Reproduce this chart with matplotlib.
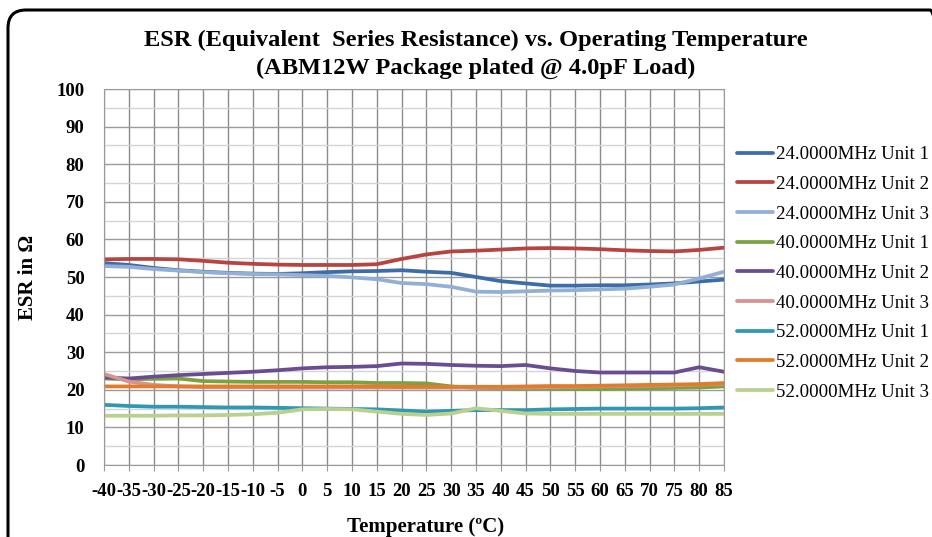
import matplotlib.pyplot as plt
from matplotlib.patches import FancyBboxPatch

# Temperature categories and ESR readings (ohm)
temps = list(range(-40, 90, 5))

esr_24_u1 = [53.7, 53.2, 52.4, 51.8, 51.4, 51.1, 50.9, 50.8, 51.0, 51.3, 51.5, 51.6, 51.8,
             51.4, 51.1, 50.0, 48.9, 48.3, 47.7, 47.7, 47.8, 47.8, 48.0, 48.3, 48.8, 49.3]
esr_24_u2 = [54.7, 54.8, 54.8, 54.7, 54.3, 53.8, 53.5, 53.3, 53.2, 53.2, 53.2, 53.4, 54.8,
             56.0, 56.8, 57.0, 57.3, 57.6, 57.7, 57.6, 57.4, 57.1, 56.9, 56.8, 57.2, 57.8]
esr_24_u3 = [52.9, 52.7, 52.1, 51.7, 51.3, 51.0, 50.8, 50.7, 50.5, 50.3, 49.9, 49.4, 48.4,
             48.1, 47.4, 46.1, 46.0, 46.2, 46.4, 46.5, 46.7, 46.9, 47.4, 48.0, 49.6, 51.4]
esr_40_u1 = [23.0, 22.8, 22.9, 23.0, 22.3, 22.2, 22.1, 22.1, 22.1, 22.0, 22.0, 21.8, 21.8,
             21.7, 20.9, 20.5, 20.4, 20.3, 20.3, 20.2, 20.2, 20.3, 20.4, 20.5, 20.6, 20.9]
esr_40_u2 = [23.3, 23.0, 23.5, 23.9, 24.2, 24.5, 24.8, 25.2, 25.7, 26.0, 26.1, 26.3, 27.0,
             26.9, 26.6, 26.4, 26.3, 26.6, 25.7, 25.0, 24.6, 24.6, 24.6, 24.6, 26.0, 24.8]
esr_40_u3 = [24.2, 22.2, 21.3, 20.9, 20.7, 20.7, 20.7, 20.6, 20.6, 20.6, 20.6, 20.6, 20.6,
             20.6, 20.6, 20.6, 20.6, 20.6, 20.7, 20.8, 20.9, 21.0, 21.1, 21.2, 21.4, 21.6]
esr_52_u1 = [16.0, 15.7, 15.5, 15.5, 15.4, 15.3, 15.3, 15.2, 15.1, 15.0, 14.9, 14.8, 14.5,
             14.2, 14.4, 14.6, 14.6, 14.6, 14.8, 14.9, 15.0, 15.0, 15.0, 15.0, 15.1, 15.3]
esr_52_u2 = [20.9, 20.9, 20.9, 20.9, 20.9, 20.9, 20.9, 20.9, 20.9, 20.9, 20.9, 20.9, 20.8,
             20.8, 20.8, 20.8, 20.8, 20.9, 21.0, 21.0, 21.1, 21.2, 21.3, 21.4, 21.5, 21.8]
esr_52_u3 = [13.1, 13.1, 13.1, 13.2, 13.2, 13.3, 13.5, 13.9, 14.8, 14.9, 14.8, 14.2, 13.6,
             13.3, 13.7, 15.1, 14.4, 13.7, 13.6, 13.6, 13.6, 13.6, 13.6, 13.6, 13.6, 13.6]

series = [
    ('24.0000MHz Unit 1', esr_24_u1, '#3C6DA8'),
    ('24.0000MHz Unit 2', esr_24_u2, '#B84442'),
    ('24.0000MHz Unit 3', esr_24_u3, '#93AFD6'),
    ('40.0000MHz Unit 1', esr_40_u1, '#7BA23F'),
    ('40.0000MHz Unit 2', esr_40_u2, '#6A4C92'),
    ('40.0000MHz Unit 3', esr_40_u3, '#D8928F'),
    ('52.0000MHz Unit 1', esr_52_u1, '#2E98B5'),
    ('52.0000MHz Unit 2', esr_52_u2, '#E37B2C'),
    ('52.0000MHz Unit 3', esr_52_u3, '#B9D08F'),
]

serif = 'Liberation Serif'

fig = plt.figure(figsize=(9.32, 5.37), dpi=100)
ax = fig.add_axes([104 / 932, 1 - 465 / 537, 620 / 932, 376 / 537])

x = list(range(len(temps)))
for name, vals, col in series:
    ax.plot(x, vals, color=col, lw=2.7, label=name, solid_joinstyle='round',
            solid_capstyle='round')

ax.set_xlim(0, len(temps) - 1)
ax.set_ylim(0, 100)
ax.set_xticks(x)
ax.set_xticklabels([str(t) for t in temps])
ax.set_yticks(range(0, 101, 10))
ax.set_yticks(range(5, 100, 10), minor=True)

ax.grid(axis='x', color='#8a8a8a', lw=1.0)
ax.grid(axis='y', which='major', color='#9a9a9a', lw=1.0)
ax.grid(axis='y', which='minor', color='#d4d4d4', lw=1.0)
ax.set_axisbelow(True)
for s in ax.spines.values():
    s.set_color('#9a9a9a')
ax.tick_params(axis='x', length=4, color='#9a9a9a', pad=9)
ax.tick_params(axis='y', which='both', length=0, pad=14)

for lab in ax.get_xticklabels() + ax.get_yticklabels():
    lab.set_fontfamily(serif)
    lab.set_fontweight('bold')
    lab.set_fontsize(13.5)

ax.set_xlabel('Temperature (ºC)', fontfamily=serif, fontweight='bold', fontsize=15)
ax.xaxis.set_label_coords((426 - 104) / 620, -(517 - 465) / 376)
ax.set_ylabel('ESR in Ω', fontfamily=serif, fontweight='bold', fontsize=15)
ax.yaxis.set_label_coords(-(104 - 38) / 620, 0.5)

fig.text(0.51, 1 - 40 / 537, 'ESR (Equivalent  Series Resistance) vs. Operating Temperature',
         ha='center', va='center', fontfamily=serif, fontweight='bold', fontsize=17.6)
fig.text(0.51, 1 - 68 / 537, '(ABM12W Package plated @ 4.0pF Load)',
         ha='center', va='center', fontfamily=serif, fontweight='bold', fontsize=17.6)

leg = ax.legend(loc='upper left', bbox_to_anchor=(633 / 620, 1 - (146 - 89) / 376),
                frameon=False, prop={'family': serif, 'size': 13.6}, handlelength=1.9,
                handletextpad=0.15, labelspacing=0.66, borderaxespad=0, borderpad=0)

# rounded outer border of the chart (right and bottom run off the image)
fig.patches.append(FancyBboxPatch((8, -60), 940, 527 + 60,
                                  boxstyle='round,pad=0,rounding_size=18',
                                  transform=None, fill=False, ec='black', lw=2.2))

plt.savefig('out.png', dpi=100)
